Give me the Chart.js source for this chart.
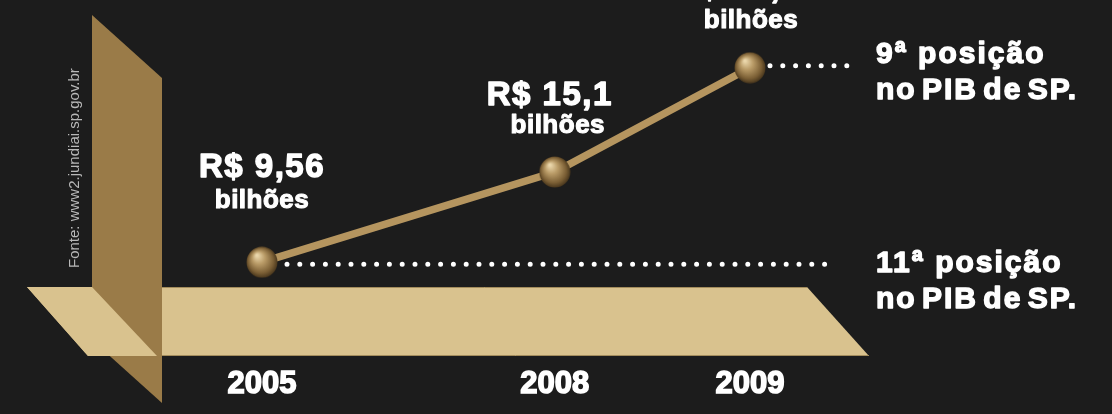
<!DOCTYPE html>
<html>
<head>
<meta charset="utf-8">
<script src="https://cdn.jsdelivr.net/npm/chart.js@4.4.1/dist/chart.umd.min.js"></script>
<style>
  html, body { margin: 0; padding: 0; background: #1c1c1c; overflow: hidden; }
  canvas { display: block; }
</style>
</head>
<body>
<canvas id="pib_chart" width="1112" height="414"></canvas>
<script>
// dados
const anos = ['2005', '2008', '2009'];
const pib = [9.56, 15.1, 21.5];
const rotulosValor = ['R$ 9,56', 'R$ 15,1', 'R$ 21,5'];
const eixoX = ['2005', '', '', '2008', '', '2009'];
const posicaoTexto = ['9ª posição', '11ª posição'];
const posicaoValor = [21.5, 9.56];
const fonte = 'Fonte: www2.jundiai.sp.gov.br';

const serie = eixoX.map(l => {
    const i = anos.indexOf(l);
    return i >= 0 ? pib[i] : null;
});

const FAMILIA = '"Liberation Sans", Arial, sans-serif';

// esfera usada como pointStyle
const esfera = document.createElement('canvas');
esfera.width = 32;
esfera.height = 32;
(function () {
    const c = esfera.getContext('2d');
    const g = c.createRadialGradient(11, 9, 1, 16, 16, 16.5);
    g.addColorStop(0, '#ead6aa');
    g.addColorStop(0.35, '#b99b67');
    g.addColorStop(0.75, '#7b5f35');
    g.addColorStop(1, '#3f2f18');
    c.fillStyle = g;
    c.beginPath();
    c.arc(16, 16, 15.5, 0, Math.PI * 2);
    c.fill();
})();

function poligono(ctx, pts, cor) {
    ctx.beginPath();
    ctx.moveTo(pts[0][0], pts[0][1]);
    for (let i = 1; i < pts.length; i++) ctx.lineTo(pts[i][0], pts[i][1]);
    ctx.closePath();
    ctx.fillStyle = cor;
    ctx.fill();
}

function pontilhado(ctx, x1, x2, y) {
    ctx.save();
    ctx.strokeStyle = '#ffffff';
    ctx.lineWidth = 5;
    ctx.lineCap = 'round';
    ctx.setLineDash([0, 12.8]);
    ctx.beginPath();
    ctx.moveTo(x1, y);
    ctx.lineTo(x2, y);
    ctx.stroke();
    ctx.restore();
}

// texto em negrito mais pesado (preenche e contorna)
function texto(ctx, t, x, y) {
    ctx.fillText(t, x, y);
    ctx.strokeText(t, x, y);
}

const cenario = {
    id: 'cenario',
    beforeDatasetsDraw(chart) {
        const ctx = chart.ctx;
        ctx.save();
        // piso e parede
        poligono(ctx, [[27, 287], [807, 287], [869, 356], [88, 356]], '#d9c28e');
        poligono(ctx, [[92, 15], [162, 78], [162, 403], [92, 340]], '#9a7b48');
        poligono(ctx, [[27, 287], [92, 287], [157, 356], [88, 356]], '#d9c28e');
        ctx.strokeStyle = '#a38c5c';
        ctx.lineWidth = 1;
        ctx.beginPath();
        ctx.moveTo(162, 287.5); ctx.lineTo(807, 287.5);
        ctx.moveTo(162, 355.5); ctx.lineTo(869, 355.5);
        ctx.stroke();

        // fonte
        ctx.translate(75, 268);
        ctx.rotate(-Math.PI / 2);
        ctx.fillStyle = '#b8b8b8';
        ctx.font = '15px ' + FAMILIA;
        ctx.textBaseline = 'middle';
        ctx.textAlign = 'left';
        ctx.fillText(fonte, 0, 0);
        ctx.restore();

        // linhas pontilhadas
        const meta = chart.getDatasetMeta(0);
        const pts = meta.data.filter((p, i) => serie[i] !== null);
        const ys = chart.scales.y;
        pontilhado(ctx, pts[0].x + 25, 830, ys.getPixelForValue(posicaoValor[1]) + 2);
        pontilhado(ctx, pts[2].x + 20, 850, ys.getPixelForValue(posicaoValor[0]) - 2);
    },
    afterDatasetsDraw(chart) {
        const ctx = chart.ctx;
        const meta = chart.getDatasetMeta(0);
        const pts = meta.data.filter((p, i) => serie[i] !== null);
        const dx = [0, -5, -12];
        const dyValor = [-85, -67, -70];
        const dxB = [0, 3, 1];
        const dyB = [-54, -39, -40];
        ctx.save();
        ctx.fillStyle = '#ffffff';
        ctx.strokeStyle = '#ffffff';
        ctx.lineJoin = 'round';
        ctx.textAlign = 'center';
        ctx.textBaseline = 'alphabetic';
        pts.forEach((p, i) => {
            ctx.font = 'bold 33px ' + FAMILIA;
            ctx.letterSpacing = '1.5px';
            ctx.lineWidth = 1.4;
            texto(ctx, rotulosValor[i], p.x + dx[i], p.y + dyValor[i]);
            ctx.font = 'bold 26px ' + FAMILIA;
            ctx.letterSpacing = '0.5px';
            ctx.lineWidth = 1.1;
            texto(ctx, 'bilhões', p.x + dxB[i], p.y + dyB[i]);
        });

        // posicao no PIB
        const ys = chart.scales.y;
        const xT = chart.chartArea.right + 126;
        ctx.textAlign = 'left';
        ctx.font = 'bold 30px ' + FAMILIA;
        ctx.letterSpacing = '2px';
        ctx.lineWidth = 1.4;
        const off1 = [-5, 10];
        posicaoTexto.forEach((t, i) => {
            const y = ys.getPixelForValue(posicaoValor[i]);
            ctx.wordSpacing = '0px';
            texto(ctx, t, xT, y + off1[i]);
            ctx.wordSpacing = '-5px';
            texto(ctx, 'no PIB de SP.', xT, y + off1[i] + 36);
        });
        ctx.restore();
    }
};

var ctx = document.getElementById('pib_chart').getContext('2d');
var pib_chart = new Chart(ctx, {
    type: 'line',
    data: {
        labels: eixoX,
        datasets: [{
            label: 'PIB de Jundiaí',
            data: serie,
            spanGaps: true,
            clip: false,
            borderColor: '#b5955f',
            borderWidth: 7.5,
            tension: 0,
            pointStyle: esfera,
            pointRadius: 16,
            pointHoverRadius: 16
        }]
    },
    options: {
        responsive: false,
        animation: false,
        devicePixelRatio: 1,
        layout: { padding: { left: 262, right: 362, top: 27, bottom: 11 } },
        plugins: { legend: { display: false }, tooltip: { enabled: false } },
        scales: {
            x: {
                grid: { display: false, drawTicks: false },
                border: { display: false },
                ticks: {
                    color: '#ffffff',
                    textStrokeColor: '#ffffff',
                    textStrokeWidth: 1.5,
                    font: { family: FAMILIA, size: 31, weight: 'bold' },
                    padding: 0,
                    autoSkip: false,
                    maxRotation: 0
                }
            },
            y: { display: false, min: 3.2, max: 24 }
        }
    },
    plugins: [cenario]
});
</script>
</body>
</html>
